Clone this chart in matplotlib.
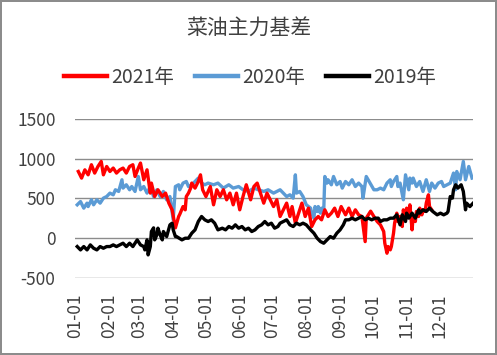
import matplotlib.pyplot as plt
from datetime import date

# 字体: 中文用 Noto Sans CJK SC
plt.rcParams['font.family'] = ['Noto Sans CJK SC', 'DejaVu Sans']
plt.rcParams['axes.unicode_minus'] = False

title = "菜油主力基差"
labels = ["2021年", "2020年", "2019年"]
colors = ["#FF0000", "#5B9BD5", "#000000"]
month_labels = [f"{m:02d}-01" for m in range(1, 13)]
yticks = [-500, 0, 500, 1000, 1500]

# 数据: 年内天数 (0 = 1月1日), 基差值
days_2021 = [3, 6, 9, 12, 15, 18, 21, 24, 26, 29, 32, 35, 38, 41, 44, 47, 50, 53, 55, 58,
             60, 63, 66, 69, 70, 73, 76, 80, 83, 86, 89, 92, 95, 96, 99, 101, 102, 104, 106, 107,
             110, 113, 115, 117, 120, 124, 127, 130, 133, 136, 139, 142, 145, 148, 151, 154, 157, 161, 164, 167,
             170, 173, 176, 179, 182, 185, 188, 191, 194, 197, 199, 202, 205, 208, 211, 214, 217, 220, 223, 226,
             229, 232, 235, 238, 241, 244, 248, 251, 254, 257, 260, 263, 266, 267, 271, 274, 277, 280, 283, 284,
             286, 287, 289, 290, 292, 293, 295, 296, 298, 300, 301, 303, 304, 306, 307, 309, 310, 312, 313, 315,
             316, 318, 319, 321, 322, 324, 325, 327]
vals_2021 = [839, 756, 860, 797, 924, 819, 902, 965, 797, 902, 839, 882, 819, 860, 882, 819, 902, 924, 776, 882,
             945, 735, 860, 567, 693, 524, 609, 524, 567, 441, 357, 130, 273, 300, 398, 357, 524, 567, 630, 693,
             630, 713, 797, 609, 524, 650, 420, 609, 524, 609, 483, 567, 420, 567, 357, 524, 672, 483, 650, 693,
             567, 441, 567, 483, 398, 483, 273, 357, 441, 273, 398, 189, 315, 441, 273, 378, 147, 231, 273, 231,
             357, 273, 315, 378, 273, 398, 294, 378, 273, 357, 294, 273, -43, 252, 340, 273, 210, 168, 84, -63,
             -189, -105, -147, -105, 63, 189, 315, 210, 273, 147, 357, 231, 378, 294, 420, 105, 273, 210, 336, 273,
             378, 294, 357, 336, 441, 546, 398, 357]

days_2020 = [2, 5, 8, 11, 12, 15, 17, 20, 23, 26, 29, 32, 35, 37, 40, 43, 44, 47, 50, 52,
             55, 58, 60, 63, 66, 69, 72, 75, 78, 81, 84, 87, 90, 92, 95, 96, 99, 102, 104, 107,
             110, 113, 116, 119, 122, 127, 131, 136, 141, 145, 150, 154, 159, 164, 168, 173, 177, 182, 185, 188,
             191, 194, 197, 200, 202, 203, 206, 209, 212, 216, 217, 219, 220, 222, 223, 225, 226, 228, 229, 231,
             232, 235, 237, 240, 243, 245, 248, 251, 254, 257, 260, 263, 264, 267, 271, 274, 277, 280, 283, 286,
             289, 290, 292, 295, 296, 298, 301, 303, 304, 306, 307, 309, 310, 313, 316, 319, 322, 325, 327, 330,
             333, 336, 338, 341, 344, 347, 349, 350, 353, 356, 358, 361, 364]
vals_2020 = [420, 461, 378, 441, 398, 483, 420, 483, 441, 504, 524, 567, 546, 609, 588, 735, 630, 672, 609, 650,
             588, 776, 609, 650, 567, 650, 524, 609, 524, 588, 483, 524, 231, 650, 672, 609, 693, 713, 650, 672,
             713, 756, 693, 672, 693, 672, 693, 630, 672, 630, 650, 609, 588, 630, 609, 588, 609, 567, 588, 609,
             567, 524, 546, 504, 797, 567, 588, 524, 420, 378, 315, 252, 398, 336, 398, 315, 378, 336, 776, 693,
             735, 672, 776, 672, 713, 630, 713, 672, 735, 650, 693, 650, 504, 776, 680, 609, 609, 630, 609, 693,
             735, 650, 713, 776, 650, 693, 483, 797, 735, 609, 756, 693, 756, 650, 713, 588, 735, 588, 693, 630,
             693, 713, 650, 672, 693, 819, 609, 839, 735, 965, 735, 902, 756]

days_2019 = [2, 5, 8, 11, 14, 17, 20, 23, 26, 29, 32, 35, 38, 41, 44, 47, 50, 53, 57, 60,
             63, 64, 66, 67, 69, 70, 72, 73, 75, 76, 78, 80, 81, 84, 87, 89, 90, 92, 93, 98,
             101, 104, 107, 110, 113, 116, 119, 122, 125, 128, 131, 135, 138, 141, 144, 147, 150, 153, 156, 159,
             162, 165, 168, 171, 174, 177, 180, 183, 186, 188, 191, 194, 197, 200, 203, 206, 209, 212, 216, 219,
             222, 225, 228, 231, 234, 237, 240, 243, 246, 248, 251, 254, 257, 260, 263, 266, 269, 272, 275, 278,
             280, 283, 286, 289, 292, 295, 298, 300, 303, 304, 306, 309, 312, 315, 316, 319, 322, 325, 328, 332,
             335, 338, 341, 342, 344, 346, 347, 349, 351, 354, 356, 358, 359, 362, 365]
vals_2019 = [-105, -147, -105, -147, -84, -126, -147, -105, -126, -105, -105, -84, -105, -84, -63, -105, -63, -105, -21, -84,
             -105, -147, -21, -210, -105, 84, 130, -21, 42, 126, 42, -21, 84, 21, 168, 189, 105, 21, 21, -21,
             0, 0, 63, 105, 210, 273, 231, 210, 231, 189, 105, 126, 105, 147, 126, 168, 126, 147, 105, 126,
             84, 105, 147, 168, 210, 168, 189, 126, 147, 189, 210, 231, 168, 147, 189, 168, 189, 168, 105, 63,
             0, -42, -63, -21, 21, 0, 63, 105, 168, 231, 231, 252, 231, 252, 273, 231, 252, 231, 252, 252,
             210, 231, 231, 252, 252, 294, 168, 294, 210, 315, 252, 315, 252, 357, 315, 357, 336, 378, 336, 294,
             315, 294, 315, 336, 524, 504, 609, 672, 630, 672, 588, 357, 441, 398, 441]

# 月初刻度
month_starts = [(date(2021, m, 1) - date(2021, 1, 1)).days for m in range(1, 13)]

fig = plt.figure(figsize=(4.97, 3.55), dpi=100, edgecolor="#8c8c8c", linewidth=1.5)
ax = fig.add_axes([0.151, 0.217, 0.801, 0.448])

ax.plot(days_2020, vals_2020, color=colors[1], lw=2.4, label=labels[1], zorder=2)
ax.plot(days_2021, vals_2021, color=colors[0], lw=2.4, label=labels[0], zorder=3)
ax.plot(days_2019, vals_2019, color=colors[2], lw=2.4, label=labels[2], zorder=4)

ax.set_xlim(0, 365)
ax.set_ylim(-500, 1500)
ax.set_yticks(yticks)
ax.set_xticks(month_starts)
ax.set_xticklabels(month_labels, rotation=90, fontsize=12.5, color="#404040")
ax.tick_params(axis='y', length=0, pad=14, labelsize=12.5, labelcolor="#404040")
ax.tick_params(axis='x', length=0, pad=11)

for s in ax.spines.values():
    s.set_visible(False)
ax.grid(axis='y', color="#8c8c8c", lw=1)
ax.set_axisbelow(True)

fig.text(0.5, 0.918, title, ha='center', va='center', fontsize=15, color="#404040")

# 图例顺序: 2021, 2020, 2019
handles, lbls = ax.get_legend_handles_labels()
order = [1, 0, 2]
leg = fig.legend([handles[i] for i in order], [lbls[i] for i in order],
                 loc='center', bbox_to_anchor=(0.503, 0.783), ncol=3, frameon=False,
                 fontsize=14, handlelength=2.2, handletextpad=0.2, columnspacing=1.1,
                 labelcolor="#404040")
for line in leg.get_lines():
    line.set_linewidth(3.2)

fig.savefig("out.png", dpi=100)
